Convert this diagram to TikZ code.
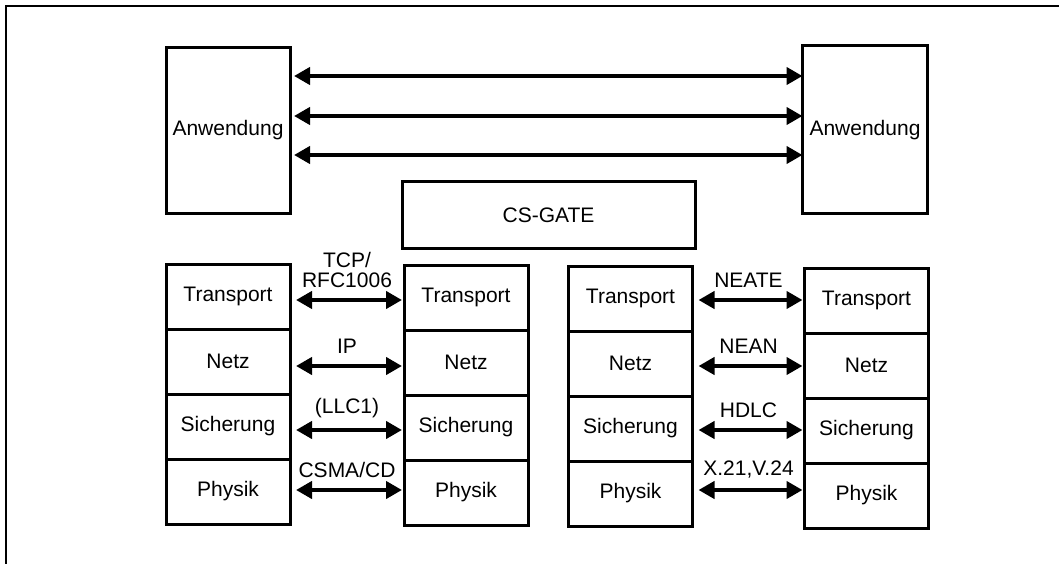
\documentclass[tikz,border=0pt]{standalone}
\usepackage{fontspec}
\setmainfont{Liberation Sans}
\usepackage{tikz}
\usetikzlibrary{arrows.meta, positioning}

\begin{document}
\begin{tikzpicture}[x=1pt, y=-1pt,
    box/.style={draw, line width=3pt, minimum width=124pt, minimum height=65pt, inner sep=0pt, outer sep=0pt, font=\fontsize{21}{20}\selectfont},
    link/.style={line width=4.5pt, {Triangle[length=16pt,width=17pt]}-{Triangle[length=16pt,width=17pt]}},
    lbl/.style={font=\fontsize{21}{20}\selectfont, inner sep=1pt, align=center}]

    \useasboundingbox (0,0) rectangle (1059,564);
    % Draw the frame
    \draw[line width=2pt] (6,564) -- (6,6) -- (1059,6);

    % Draw the application boxes
    \node[box, minimum height=166pt] (anwL) at (228,130.5) {Anwendung};
    \node[box, minimum width=125pt, minimum height=168pt] (anwR) at (865,129.7) {Anwendung};
    \foreach \y in {76,116,155} {
        \draw[link, shorten <=4pt] (anwL.east |- 0,\y) -- (anwR.west |- 0,\y);
    }

    % Draw the gateway
    \node[box, minimum width=293pt, minimum height=66pt] (gate) at (548.5,215) {CS-GATE};

    % Draw the layer stacks
    \foreach \s/\x/\y in {a/228/264, b/466/265, c/630.5/266, d/866.5/268} {
        \node[box, anchor=north] (\s1) at (\x,\y) {Transport};
        \node[box, below=0pt of \s1] (\s2) {Netz};
        \node[box, below=0pt of \s2] (\s3) {Sicherung};
        \node[box, below=0pt of \s3] (\s4) {Physik};
    }

    % Draw the protocols between the layers
    \foreach \i/\y/\t in {1/300/{TCP/\\RFC1006}, 2/366/IP, 3/430/(LLC1), 4/490/{CSMA/CD}} {
        \draw[link, shorten <=6pt, shorten >=2pt] (a\i.east |- 0,\y) -- node[lbl, above=9pt] {\t} (b\i.west |- 0,\y);
    }
    \foreach \i/\y/\t in {1/300/NEATE, 2/366/NEAN, 3/430/HDLC, 4/490/{X.21,V.24}} {
        \draw[link, shorten <=6pt, shorten >=2pt] (c\i.east |- 0,\y) -- node[lbl, above=9pt] {\t} (d\i.west |- 0,\y);
    }
\end{tikzpicture}
\end{document}
